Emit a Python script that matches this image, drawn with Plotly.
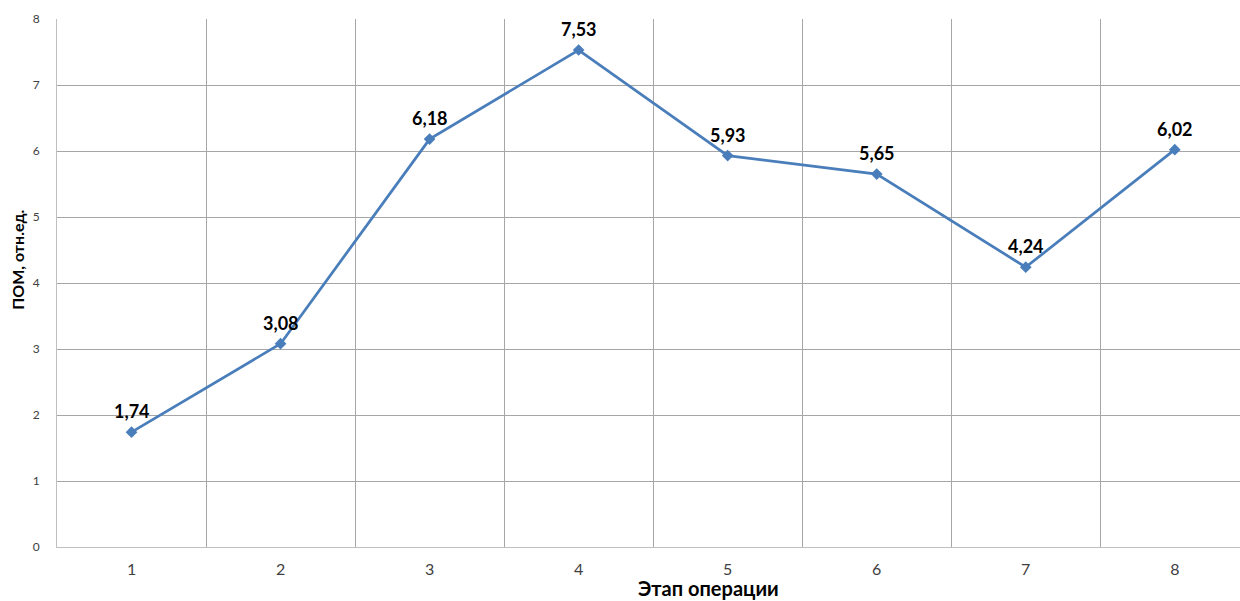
import plotly.graph_objects as go

# Операции и значения ПОМ по этапам
stages = [1, 2, 3, 4, 5, 6, 7, 8]
pom_values = [1.74, 3.08, 6.18, 7.53, 5.93, 5.65, 4.24, 6.02]
y_ticks = [0, 1, 2, 3, 4, 5, 6, 7, 8]

x_title = "Этап операции"
y_title = "ПОМ, отн.ед."

line_color = "#4a7ebb"
font_family = "Lato, 'Open Sans', sans-serif"

fig = go.Figure()
fig.add_trace(go.Scatter(
    x=stages,
    y=pom_values,
    mode="lines+markers",
    line=dict(color=line_color, width=2.75),
    marker=dict(symbol="diamond", size=9, color=line_color),
    hoverinfo="skip",
    showlegend=False,
))

# Подписи значений над точками (десятичная запятая)
for xs, v in zip(stages, pom_values):
    fig.add_annotation(
        x=xs, y=v, xref="x", yref="y",
        text=f"<b>{v:.2f}</b>".replace(".", ","),
        showarrow=False, yshift=21,
        font=dict(family=font_family, size=18, color="#000000"),
    )

fig.add_annotation(
    x=0.551, y=-0.078, xref="paper", yref="paper",
    text=f"<b>{x_title}</b>", showarrow=False,
    xanchor="center", yanchor="middle",
    font=dict(family=font_family, size=20, color="#000000"),
)
fig.add_annotation(
    x=-0.033, y=0.544, xref="paper", yref="paper",
    text=f"<b>{y_title}</b>", showarrow=False, textangle=-90,
    xanchor="center", yanchor="middle",
    font=dict(family=font_family, size=16, color="#000000"),
)

fig.update_layout(
    width=1240, height=601,
    margin=dict(l=57, r=0, t=19, b=54),
    paper_bgcolor="white",
    plot_bgcolor="white",
    font=dict(family=font_family),
    xaxis=dict(
        range=[0.5, 8.5 - 9.3 / 149],
        tickvals=stages,
        ticktext=[str(s) for s in stages],
        showgrid=False,
        zeroline=False,
        showline=True, linecolor="#bfbfbf", linewidth=1,
        ticks="", ticklabelstandoff=8,
        tickfont=dict(size=16, color="#404040"),
        minor=dict(tick0=0.5, dtick=1, showgrid=True,
                   gridcolor="#a6a6a6", gridwidth=1, ticks=""),
    ),
    yaxis=dict(
        range=[0, 8],
        tickvals=y_ticks,
        showgrid=True, gridcolor="#a6a6a6", gridwidth=1,
        zeroline=False,
        showline=True, linecolor="#bfbfbf", linewidth=1,
        ticks="", ticklabelstandoff=14,
        tickfont=dict(size=12, color="#404040"),
    ),
)

fig.write_html("out.html")
